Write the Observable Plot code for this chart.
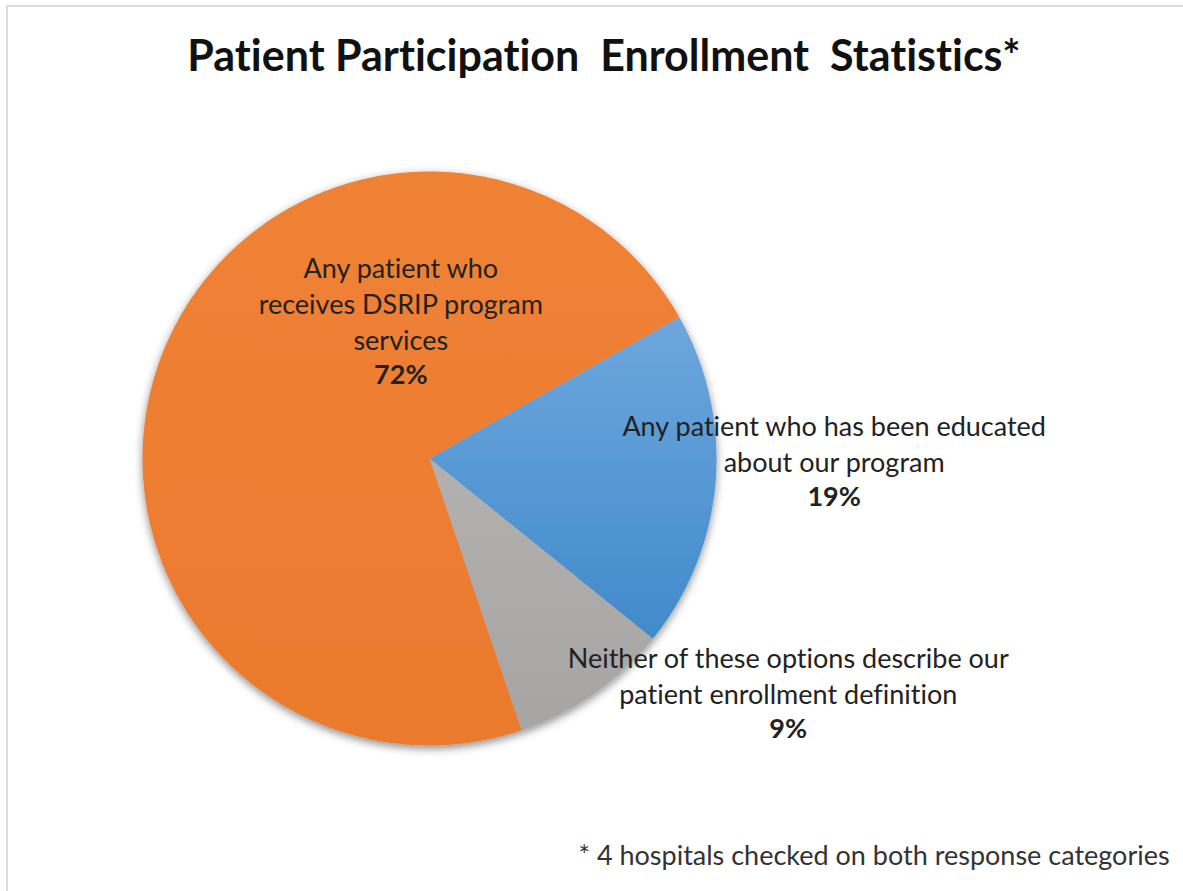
<!DOCTYPE html>
<html><head><meta charset="utf-8">
<script src="https://cdn.jsdelivr.net/npm/d3@7"></script>
<script src="https://cdn.jsdelivr.net/npm/@observablehq/plot@0.6"></script>
<style>
html,body{margin:0;padding:0;background:#fff;}
#frame{position:absolute;left:6px;top:5px;width:1200px;height:900px;border-top:2px solid #dcdcdc;border-left:2px solid #dcdcdc;}
#chart{position:absolute;left:0;top:0;}
#chart text{font-variant-ligatures:none;white-space:pre;}
</style></head><body>
<div id="frame"></div>
<div id="chart"></div>
<script>
// ---- data ----
const categories = [
  "Any patient who has been educated about our program",
  "Neither of these options describe our patient enrollment definition",
  "Any patient who receives DSRIP program services"
];
const shares = [19, 9, 72];
const percentLabels = ["19%", "9%", "72%"];
const labelLines = [
  ["Any patient who has been educated", "about our program"],
  ["Neither of these options describe our", "patient enrollment definition"],
  ["Any patient who", "receives DSRIP program", "services"]
];
const titleText = "Patient Participation  Enrollment  Statistics*";
const footnoteText = "* 4 hospitals checked on both response categories";

// ---- style / layout ----
const sliceFills = ["url(#gBlue)", "url(#gGray)", "url(#gOrange)"];
const W = 1183, H = 891;
const cx = 429, cy = 458, R = 287;
const startDeg = 60.5;
// label anchor (first line centre) relative to pie centre, in radius units
const labelAnchor = [[1.41, -0.11], [1.25, 0.70], [-0.10, -0.66]];
const lineStep = 36;
const labelSize = 27;

const rows = categories.map((c, i) => ({key: c, share: shares[i]}));
const arcs = d3.pie().value(d => d.share).sort(null)
  .startAngle(startDeg * Math.PI / 180)
  .endAngle(startDeg * Math.PI / 180 + 2 * Math.PI)(rows);

const pts = [];
for (const a of arcs) {
  const n = 240;
  pts.push({key: a.data.key, x: cx, y: cy});
  for (let i = 0; i <= n; i++) {
    const t = a.startAngle + (a.endAngle - a.startAngle) * i / n;
    pts.push({key: a.data.key, x: cx + R * Math.sin(t), y: cy - R * Math.cos(t)});
  }
}

const nameRows = [], pctRows = [];
categories.forEach((c, i) => {
  const ax = cx + labelAnchor[i][0] * R, ay = cy + labelAnchor[i][1] * R;
  labelLines[i].forEach((ln, j) => nameRows.push({text: ln, x: ax, y: ay + j * lineStep}));
  pctRows.push({text: percentLabels[i], x: ax, y: ay + labelLines[i].length * lineStep - 2});
});

const chart = Plot.plot({
  width: W, height: H, margin: 0,
  x: {domain: [0, W], range: [0, W], axis: null},
  y: {domain: [0, H], range: [0, H], axis: null},
  color: {domain: categories, range: sliceFills},
  style: {fontFamily: "Lato, 'Open Sans', sans-serif", background: "transparent", overflow: "visible"},
  marks: [
    Plot.line(pts, {x: "x", y: "y", z: "key", fill: "key", stroke: "none"}),
    Plot.text(nameRows, {x: "x", y: "y", text: "text", fontSize: labelSize, fill: "#222"}),
    Plot.text(pctRows, {x: "x", y: "y", text: "text", fontSize: labelSize, fontWeight: "bold", fill: "#222"}),
    Plot.text([titleText], {frameAnchor: "top", lineAnchor: "middle", dy: 57, dx: 12, text: d => d, fontSize: 43, fontWeight: "bold", fill: "#111"}),
    Plot.text([footnoteText], {frameAnchor: "top-left", lineAnchor: "middle", dx: 578, dy: 856, text: d => d, fontSize: 27, textAnchor: "start", fill: "#333"})
  ]
});

const svg = d3.select(chart);
svg.selectAll("text").style("white-space", "pre");
const defs = svg.insert("defs", ":first-child");
function grad(id, c1, c2) {
  const g = defs.append("linearGradient").attr("id", id).attr("x1", 0).attr("y1", 0).attr("x2", 0).attr("y2", 1);
  g.append("stop").attr("offset", "0%").attr("stop-color", c1);
  g.append("stop").attr("offset", "100%").attr("stop-color", c2);
}
grad("gBlue", "#6da7dd", "#418acc");
grad("gGray", "#b3b0b0", "#a7a4a4");
grad("gOrange", "#f08236", "#ea7a2e");
const f = defs.append("filter").attr("id", "shadow").attr("x", "-10%").attr("y", "-10%").attr("width", "120%").attr("height", "120%");
f.append("feDropShadow").attr("dx", 0).attr("dy", 3).attr("stdDeviation", 4).attr("flood-color", "#000").attr("flood-opacity", 0.45);
svg.select('g[aria-label="line"]').attr("filter", "url(#shadow)");

document.getElementById("chart").appendChild(chart);
</script>
</body></html>
